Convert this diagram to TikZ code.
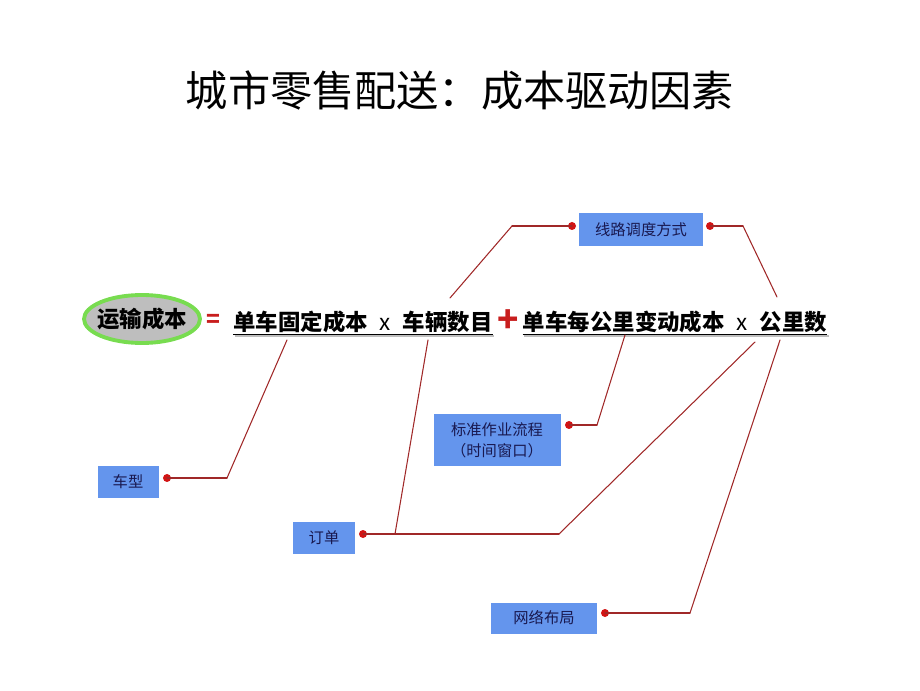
\documentclass[tikz,border=0pt]{standalone}
\usepackage{fontspec}
\setmainfont{Noto Sans CJK SC}
\usepackage{tikz}
\usetikzlibrary{positioning,calc,shapes.geometric}
\usepackage{tkz-euclide}
\definecolor{boxblue}{RGB}{100,149,237}
\definecolor{boxtext}{RGB}{25,25,80}
\definecolor{wirered}{RGB}{160,40,40}
\definecolor{dotred}{RGB}{210,20,20}
\definecolor{ringgreen}{RGB}{120,220,80}
\definecolor{capgray}{RGB}{190,190,190}
\definecolor{signred}{RGB}{200,30,30}

\begin{document}
\begin{tikzpicture}[
    factor/.style={fill=boxblue, text=boxtext, font=\fontsize{8.7}{11.9}\selectfont, inner sep=0pt, align=center},
    term/.style={font=\fontsize{12.75}{14}\selectfont\bfseries, inner xsep=0pt, inner ysep=0.5pt},
    sign/.style={text=signred, inner sep=0pt},
    knob/.style={circle, fill=dotred, inner sep=0pt, minimum size=0.16cm},
    wire/.style={color=wirered, line width=0.6pt}]
    \useasboundingbox (0,0) rectangle (18.4,13.8);

    \node (title) at (9.2,12.0) {\fontsize{24}{26}\selectfont 城市零售配送：成本驱动因素};

    % cost formula
    \node[ellipse, fill=capgray, draw=ringgreen, line width=2.2pt, inner sep=0pt,
      minimum width=2.32cm, minimum height=0.96cm] (ring) at (2.84,7.42) {};
    \node[font=\fontsize{12.75}{14}\selectfont\bfseries] (cost) at (ring.center) {运输成本};
    \node[sign, font=\fontsize{13}{14}\selectfont\bfseries] (eq) at (4.26,7.38) {=};
    \node[term] (fixed) at (7.26,7.36) {单车固定成本\hspace{0.24cm}{\mdseries x}\hspace{0.24cm}车辆数目};
    \node[sign, font=\fontsize{20}{20}\selectfont\bfseries] (plus) at (10.16,7.38) {+};
    \node[term] (varcost) at (13.5,7.36) {单车每公里变动成本\hspace{0.24cm}{\mdseries x}\hspace{0.24cm}公里数};
    \draw[capgray, line width=1pt] ([shift={(0.03,-0.04)}]fixed.south west) -- ([shift={(0.03,-0.04)}]fixed.south east);
    \draw[line width=0.8pt] (fixed.south west) -- (fixed.south east);
    \draw[capgray, line width=1pt] ([shift={(0.03,-0.04)}]varcost.south west) -- ([shift={(0.03,-0.04)}]varcost.south east);
    \draw[line width=0.8pt] (varcost.south west) -- (varcost.south east);

    % factors
    \node[factor, minimum width=2.48cm, minimum height=0.66cm] (route) at (12.82,9.2) {线路调度方式};
    \node[factor, minimum width=2.54cm, minimum height=1.04cm] (sop) at (9.94,5.0) {标准作业流程\\（时间窗口）};
    \node[factor, minimum width=1.22cm, minimum height=0.64cm] (model) at (2.56,4.16) {车型};
    \node[factor, minimum width=1.24cm, minimum height=0.64cm] (order) at (6.48,3.04) {订单};
    \node[factor, minimum width=2.12cm, minimum height=0.62cm] (network) at (10.88,1.44) {网络布局};

    \node[knob] (routeL) at (11.44,9.28) {};
    \node[knob] (routeR) at (14.2,9.28) {};
    \node[knob] (sopR) at (11.38,5.3) {};
    \node[knob] (modelR) at (3.34,4.24) {};
    \node[knob] (orderR) at (7.26,3.12) {};
    \node[knob] (networkR) at (12.1,1.54) {};

    % connectors
    \tkzDefPoint(10.24,9.28){rA}
    \tkzDefPoint(9.0,7.84){rB}
    \tkzDefPoint(14.86,9.28){sA}
    \tkzDefPoint(15.54,7.86){sB}
    \tkzDefPoint(11.94,5.3){pA}
    \tkzDefPoint(12.5,7.1){pB}
    \tkzDefPoint(4.54,4.24){mA}
    \tkzDefPoint(5.74,7.0){mB}
    \tkzDefPoint(7.9,3.12){oA}
    \tkzDefPoint(8.56,7.0){oB}
    \tkzDefPoint(11.18,3.12){oC}
    \tkzDefPoint(15.1,6.96){oD}
    \tkzDefPoint(13.8,1.54){nA}
    \tkzDefPoint(15.6,7.0){nB}
    \tkzDrawSegments[wire](routeL,rA rA,rB)
    \tkzDrawSegments[wire](routeR,sA sA,sB)
    \tkzDrawSegments[wire](sopR,pA pA,pB)
    \tkzDrawSegments[wire](modelR,mA mA,mB)
    \tkzDrawSegments[wire](orderR,oC oC,oD oA,oB)
    \tkzDrawSegments[wire](networkR,nA nA,nB)
\end{tikzpicture}
\end{document}
